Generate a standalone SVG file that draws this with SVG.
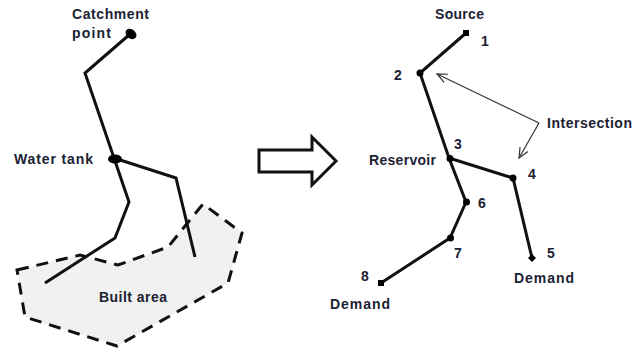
<svg xmlns="http://www.w3.org/2000/svg" width="643" height="351" viewBox="0 0 643 351">
<style>
text{font-family:"Liberation Sans",Arial,sans-serif;font-size:14px;font-weight:bold;fill:#1c2233}
.pipe{fill:none;stroke:#111;stroke-width:3;stroke-linejoin:miter}
.thin{fill:none;stroke:#333;stroke-width:1.2}
.nd{fill:#000}
</style>
<defs>
<marker id="ah" markerWidth="12" markerHeight="10" refX="11" refY="5" orient="auto" markerUnits="userSpaceOnUse"><path d="M1 0.5L11 5L1 9.5" fill="none" stroke="#333" stroke-width="1.2"/></marker>
</defs>
<rect width="643" height="351" fill="#fff"/>
<g id="built-area">
<path d="M17 270L80 255L118 265L168 247L203 204L242 233L228 283L117 346L25 317Z" fill="#f1f1f1" stroke="#111" stroke-width="3" stroke-dasharray="12 8"/>
<text x="99" y="302" textLength="68">Built area</text>
</g>
<g id="connectors">
<path class="pipe" d="M129 35L85 73L114 158L129 202L115 238L45 283"/>
<path class="pipe" d="M114 158L176 178L195 257"/>
<path class="pipe" d="M466 33L420 73L449 158L466 202L450 238L381 283"/>
<path class="pipe" d="M449 158L513 178L532 258"/>
<path class="thin" marker-end="url(#ah)" d="M539 123L437 74"/>
<path class="thin" marker-end="url(#ah)" d="M539 123L519 158"/>
</g>
<g id="catchment-point"><ellipse class="nd" cx="131" cy="34" rx="6" ry="4.5" transform="rotate(40 131 34)"/>
<text x="72" y="19" textLength="77">Catchment</text><text x="72" y="38" textLength="39">point</text></g>
<g id="water-tank"><ellipse class="nd" cx="115" cy="159" rx="7" ry="4.5"/><text x="14" y="164" textLength="79">Water tank</text></g>
<g id="transform-arrow"><path d="M259 150H312V137L336 161L312 185V172H259Z" fill="#fff" stroke="#111" stroke-width="3"/></g>
<g id="node-1"><rect class="nd" x="463" y="30" width="6" height="6"/><text x="481" y="46">1</text></g>
<g id="source"><text x="435" y="19" textLength="49">Source</text></g>
<g id="node-2"><circle class="nd" cx="420" cy="73" r="3.500"/><text x="394" y="80">2</text></g>
<g id="node-3"><circle class="nd" cx="450" cy="158.500" r="3.500"/><text x="454" y="149">3</text><text x="369" y="165" textLength="67">Reservoir</text></g>
<g id="node-4"><circle class="nd" cx="513" cy="178" r="3.500"/><text x="528" y="179">4</text></g>
<g id="node-5"><path class="nd" d="M532 254L536 258L532 262L528 258Z"/><text x="547" y="258">5</text><text x="514" y="283" textLength="60">Demand</text></g>
<g id="node-6"><circle class="nd" cx="466.500" cy="202" r="3.500"/><text x="478" y="208">6</text></g>
<g id="node-7"><circle class="nd" cx="450.500" cy="238" r="3.500"/><text x="454" y="258">7</text></g>
<g id="node-8"><rect class="nd" x="378" y="280" width="6" height="6"/><text x="361" y="281">8</text><text x="330" y="309" textLength="60">Demand</text></g>
<g id="intersection"><text x="547" y="128" textLength="85">Intersection</text></g>
</svg>
